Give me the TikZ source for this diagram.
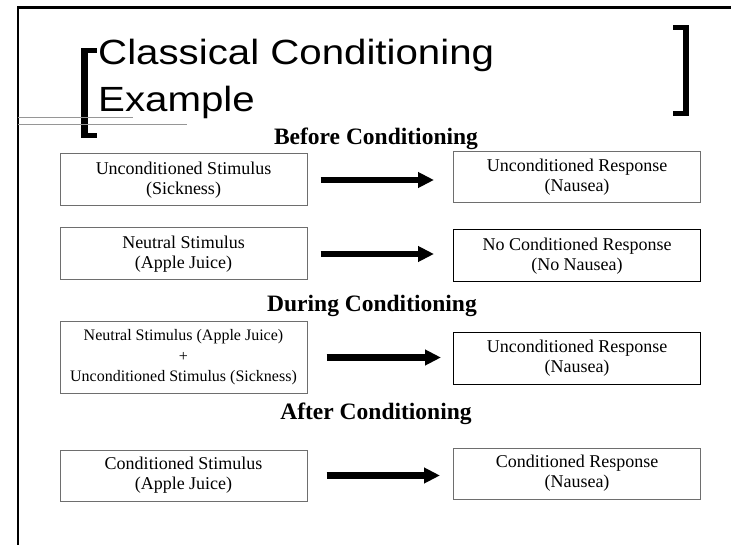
\documentclass[tikz,border=0pt]{standalone}
\usepackage{fontspec}
\setmainfont{Liberation Serif}
\newfontfamily\titlefont[FakeStretch=1.15]{Liberation Sans}
\usetikzlibrary{arrows.meta}
\definecolor{boxgrey}{RGB}{110,110,110}
\definecolor{linegrey}{RGB}{150,150,150}
\begin{document}
\begin{tikzpicture}[x=1pt,y=-1pt,
  boxnode/.style={draw=boxgrey, line width=1pt, minimum width=247pt, minimum height=52pt, inner sep=0pt, align=center, font=\fontsize{18}{20}\selectfont},
  heading/.style={anchor=base, inner sep=0pt, font=\fontsize{23.5}{26}\selectfont\bfseries},
  bigarrow/.style={line width=6.5pt, -{Triangle[length=16pt,width=15pt]}, shorten <=13pt, shorten >=19pt},
  frameline/.style={line width=2.5pt, black},
  greyline/.style={line width=0.8pt, linegrey},
  titletext/.style={anchor=base west, inner sep=0pt, font=\titlefont\fontsize{35}{40}\selectfont}]
\useasboundingbox (0,0) rectangle (731,545);
% frame
\draw[frameline] (18,545) -- (18,7.3) -- (731,7.3);
% title brackets
\fill (81,48) rectangle (88,138);
\fill (81,48) rectangle (97,53);
\fill (81,133) rectangle (97,138);
\fill (683,25) rectangle (689,116);
\fill (673,25) rectangle (689,30);
\fill (673,111) rectangle (689,116);
% grey lines
\draw[greyline] (18,117) -- (133,117);
\draw[greyline] (18,124.5) -- (187,124.5);
% title
\node[titletext] (t1) at (98,65) {Classical Conditioning};
\node[titletext] (t2) at (98,112) {Example};
% headings
\node[heading] (h1) at (376,145) {Before Conditioning};
\node[heading] (h2) at (372,312) {During Conditioning};
\node[heading] (h3) at (376,419) {After Conditioning};
% boxes
\node[boxnode] (b1) at (183.5,180) {Unconditioned Stimulus\\(Sickness)};
\node[boxnode, minimum height=51pt] (b2) at (577,177.5) {Unconditioned Response\\(Nausea)};
\node[boxnode] (b3) at (183.5,254) {Neutral Stimulus\\(Apple Juice)};
\node[boxnode, draw=black] (b4) at (577,256) {No Conditioned Response\\(No Nausea)};
\node[boxnode, minimum height=71pt, font=\fontsize{16}{20.5}\selectfont] (b5) at (183.5,357.5) {Neutral Stimulus (Apple Juice)\\+\\Unconditioned Stimulus (Sickness)};
\node[boxnode, draw=black, minimum height=51pt] (b6) at (577,358.5) {Unconditioned Response\\(Nausea)};
\node[boxnode, minimum height=51pt] (b7) at (183.5,475.5) {Conditioned Stimulus\\(Apple Juice)};
\node[boxnode, minimum height=51pt] (b8) at (577,473.5) {Conditioned Response\\(Nausea)};
% arrows
\draw[bigarrow] (b1.east) -- (b1.east -| b2.west);
\draw[bigarrow] (b3.east) -- (b3.east -| b4.west);
\draw[bigarrow, shorten <=19pt, shorten >=12pt] (b5.east) -- (b5.east -| b6.west);
\draw[bigarrow, shorten <=19pt, shorten >=13pt] (b7.east) -- (b7.east -| b8.west);
\end{tikzpicture}
\end{document}
